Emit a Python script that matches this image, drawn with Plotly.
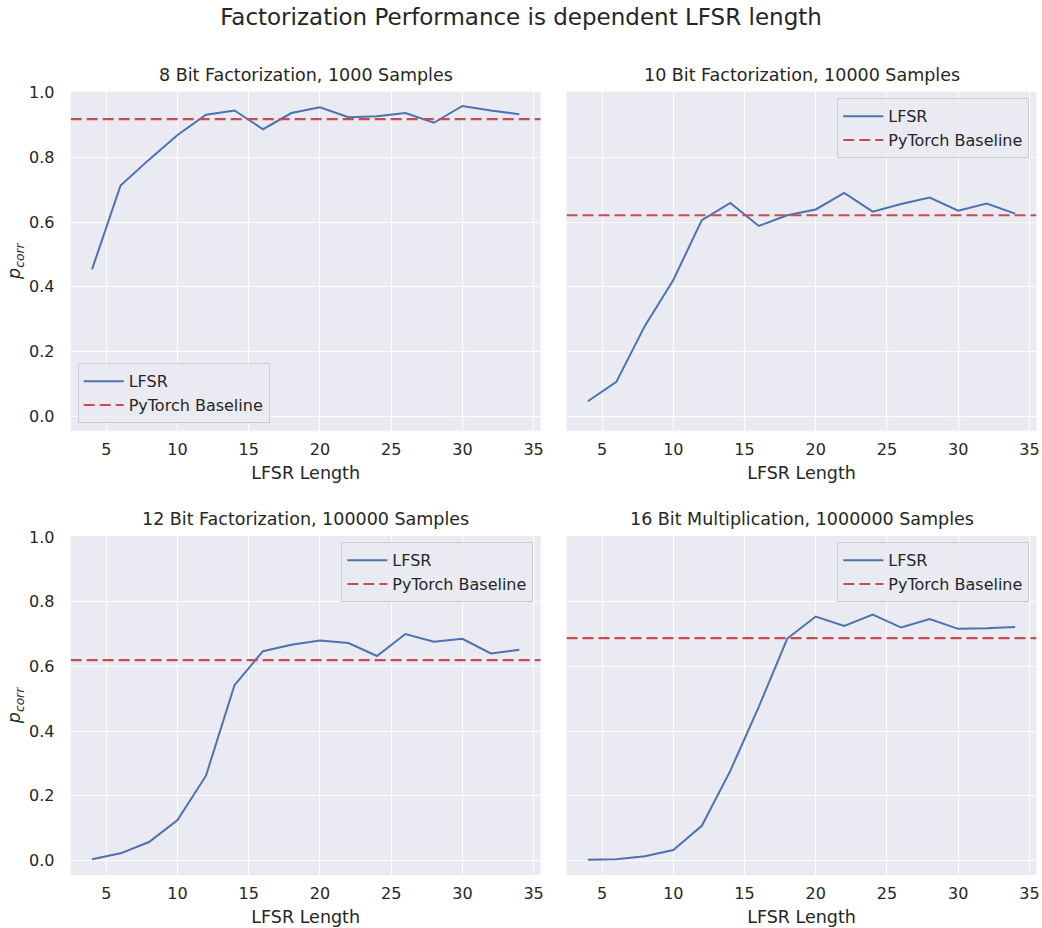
import plotly.graph_objects as go

# ---- data ----
lfsr_len = [4, 6, 8, 10, 12, 14, 16, 18, 20, 22, 24, 26, 28, 30, 32, 34]
p_8bit = [0.454, 0.713, 0.793, 0.869, 0.932, 0.945, 0.887, 0.937, 0.955, 0.924,
          0.927, 0.937, 0.907, 0.959, 0.945, 0.933]
p_10bit = [0.046, 0.106, 0.279, 0.421, 0.606, 0.659, 0.588, 0.621, 0.639, 0.690,
           0.632, 0.656, 0.676, 0.635, 0.657, 0.626]
p_12bit = [0.004, 0.022, 0.057, 0.125, 0.262, 0.542, 0.647, 0.667, 0.680, 0.672,
           0.632, 0.700, 0.676, 0.685, 0.640, 0.651]
p_16bit = [0.002, 0.004, 0.013, 0.032, 0.107, 0.277, 0.475, 0.686, 0.754, 0.725,
           0.760, 0.720, 0.746, 0.716, 0.718, 0.722]
baselines = [0.918, 0.621, 0.619, 0.687]
series = [p_8bit, p_10bit, p_12bit, p_16bit]
titles = ["8 Bit Factorization, 1000 Samples",
          "10 Bit Factorization, 10000 Samples",
          "12 Bit Factorization, 100000 Samples",
          "16 Bit Multiplication, 1000000 Samples"]
x_ticks = [5, 10, 15, 20, 25, 30, 35]
y_ticks = [0.0, 0.2, 0.4, 0.6, 0.8, 1.0]
x_range = [2.5, 35.5]
y_range = [-0.045, 1.003]

# ---- styling ----
W, H = 1042, 928
FONT = "DejaVu Sans"
TXT = "#262626"
BG = "#EAEAF2"
BLUE = "#4C72B0"
RED = "#C44E52"

col_px = [(70.7, 540.7), (566.5, 1036.5)]
row_px = [(91.7, 430.7), (536.0, 875.0)]


def xdom(c):
    return [col_px[c][0] / W, col_px[c][1] / W]


def ydom(r):
    return [(H - row_px[r][1]) / H, (H - row_px[r][0]) / H]


fig = go.Figure()
legend_names = ["legend", "legend2", "legend3", "legend4"]
legend_pos = [
    dict(x=77.7 / W, y=(H - 423.3) / H, xanchor="left", yanchor="bottom"),
    dict(x=1029.3 / W, y=(H - 98.3) / H, xanchor="right", yanchor="top"),
    dict(x=533.3 / W, y=(H - 542.3) / H, xanchor="right", yanchor="top"),
    dict(x=1029.3 / W, y=(H - 542.3) / H, xanchor="right", yanchor="top"),
]

annotations = []
layout = {}
for i in range(4):
    r, c = divmod(i, 2)
    ax = "" if i == 0 else str(i + 1)
    xa, ya = "x" + ax, "y" + ax
    fig.add_trace(go.Scatter(
        x=lfsr_len, y=series[i], mode="lines", name="LFSR",
        line=dict(color=BLUE, width=2), xaxis=xa, yaxis=ya,
        legend=legend_names[i], showlegend=True))
    fig.add_trace(go.Scatter(
        x=x_range, y=[baselines[i], baselines[i]], mode="lines",
        name="PyTorch Baseline",
        line=dict(color=RED, width=2.2, dash="11px,5px"), xaxis=xa, yaxis=ya,
        legend=legend_names[i], showlegend=True))

    layout["xaxis" + ax] = dict(
        domain=xdom(c), anchor=ya, range=x_range, tickvals=x_ticks,
        automargin=False,
        showgrid=True, gridcolor="white", gridwidth=1.3, zeroline=False,
        showline=False, ticks="outside", ticklen=4, tickcolor="rgba(0,0,0,0)",
        tickfont=dict(family=FONT, size=16, color=TXT),
        title=dict(text="LFSR Length", standoff=8,
                   font=dict(family=FONT, size=17.5, color=TXT)))
    ydict = dict(
        domain=ydom(r), anchor=xa, range=y_range, tickvals=y_ticks,
        automargin=False, showticklabels=(c == 0),
        showgrid=True, gridcolor="white", gridwidth=1.3, zeroline=False,
        showline=False, ticks="outside", ticklen=12, tickcolor="rgba(0,0,0,0)",
        tickfont=dict(family=FONT, size=16, color=TXT))
    if c == 0:
        ydict["ticktext"] = ["%.1f" % v for v in y_ticks]
        ydict["title"] = dict(text="<i>p</i><sub><i>corr</i></sub>", standoff=3,
                              font=dict(family=FONT, size=17.5, color=TXT))
    layout["yaxis" + ax] = ydict
    layout[legend_names[i]] = dict(
        **legend_pos[i], bgcolor="rgba(234,234,242,0.8)", bordercolor="#CCCCCC",
        borderwidth=1, font=dict(family=FONT, size=16, color=TXT),
        tracegroupgap=0, itemwidth=40)
    annotations.append(dict(
        text=titles[i], xref="paper", yref="paper",
        x=(xdom(c)[0] + xdom(c)[1]) / 2, y=(H - (row_px[r][0] - 17)) / H,
        xanchor="center", yanchor="middle", showarrow=False,
        font=dict(family=FONT, size=17.5, color=TXT)))

fig.update_layout(
    width=W, height=H, margin=dict(l=0, r=0, t=0, b=0, autoexpand=False),
    paper_bgcolor="white", plot_bgcolor=BG,
    title=dict(text="Factorization Performance is dependent LFSR length",
               x=0.5, xanchor="center", y=1 - 17 / H, yanchor="middle",
               automargin=False,
               font=dict(family=FONT, size=23, color=TXT)),
    annotations=annotations,
    **layout)

fig.write_html("out.html")
